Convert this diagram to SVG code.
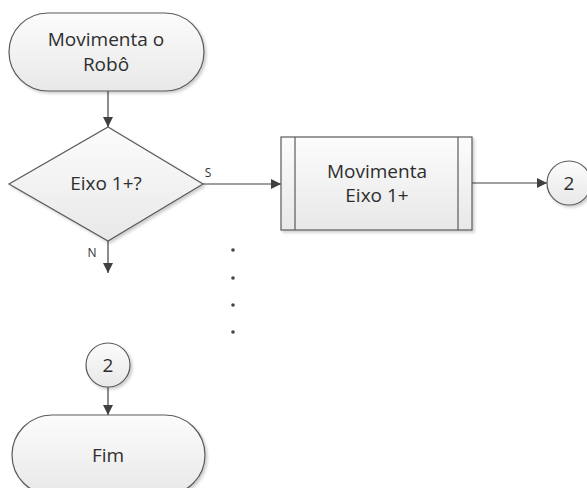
<svg xmlns="http://www.w3.org/2000/svg" width="587" height="488" viewBox="0 0 587 488">
<defs>
<linearGradient id="g" x1="0" y1="0" x2="0" y2="1">
<stop offset="0" stop-color="#fcfcfc"/>
<stop offset="1" stop-color="#e8e8e8"/>
</linearGradient>
<filter id="sh" x="-10%" y="-10%" width="130%" height="130%">
<feGaussianBlur in="SourceAlpha" stdDeviation="1.5"/>
<feOffset dx="2" dy="2" result="b"/>
<feComponentTransfer><feFuncA type="linear" slope="0.2"/></feComponentTransfer>
<feMerge><feMergeNode/><feMergeNode in="SourceGraphic"/></feMerge>
</filter>
<marker id="arr" viewBox="0 0 10 10" refX="10" refY="5" markerWidth="10" markerHeight="10" markerUnits="userSpaceOnUse" orient="auto">
<path d="M0,0 L10,5 L0,10 Z" fill="#404040"/>
</marker>
</defs>
<style>
.shape{fill:url(#g);stroke:#5a5a5a;stroke-width:1.2;filter:url(#sh)}
.t{font-family:"Open Sans","Liberation Sans",sans-serif;font-size:19px;fill:#2e2e2e;text-anchor:middle}
.lbl{font-family:"Open Sans","Liberation Sans",sans-serif;font-size:12px;fill:#333;text-anchor:middle}
.c{stroke:#404040;stroke-width:1.2;fill:none;marker-end:url(#arr)}
.dot{fill:#444}
</style>
<rect width="587" height="488" fill="#fff"/>
<g id="connectors">
<line class="c" x1="108" y1="91" x2="108" y2="127"/>
<line class="c" x1="203" y1="184" x2="281" y2="184"/>
<line class="c" x1="472" y1="183" x2="547" y2="183"/>
<line class="c" x1="108" y1="241" x2="108" y2="273"/>
<line class="c" x1="108" y1="387" x2="108" y2="415"/>
<text class="lbl" x="208" y="177">S</text>
<text class="lbl" x="92" y="257">N</text>
</g>
<g id="start">
<rect class="shape" x="9" y="13" width="195" height="78" rx="39" ry="39"/>
<text class="t" x="106" y="46">Movimenta o</text>
<text class="t" x="106" y="71">Robô</text>
</g>
<g id="decision">
<polygon class="shape" points="108,127 203,184 108,241 9,184"/>
<text class="t" x="106" y="190">Eixo 1+?</text>
</g>
<g id="process">
<rect class="shape" x="281" y="137" width="191" height="93"/>
<line x1="295" y1="137" x2="295" y2="230" stroke="#5a5a5a" stroke-width="1.2"/>
<line x1="458" y1="137" x2="458" y2="230" stroke="#5a5a5a" stroke-width="1.2"/>
<text class="t" x="377" y="178">Movimenta</text>
<text class="t" x="377" y="202">Eixo 1+</text>
</g>
<g id="conn-out">
<circle class="shape" cx="569" cy="183" r="22"/>
<text class="t" x="569" y="190">2</text>
</g>
<g id="dots">
<circle class="dot" cx="233" cy="250" r="1.8"/>
<circle class="dot" cx="233" cy="278" r="1.8"/>
<circle class="dot" cx="233" cy="305" r="1.8"/>
<circle class="dot" cx="233" cy="332" r="1.8"/>
</g>
<g id="conn-in">
<circle class="shape" cx="108" cy="365" r="22"/>
<text class="t" x="108" y="372">2</text>
</g>
<g id="end">
<rect class="shape" x="12" y="415" width="193" height="80" rx="40" ry="40"/>
<text class="t" x="108" y="462">Fim</text>
</g>
</svg>
